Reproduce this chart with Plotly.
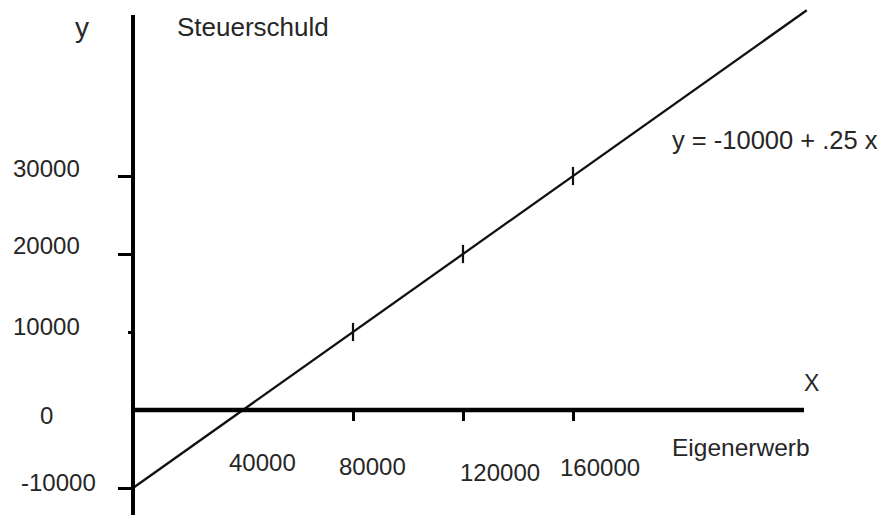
import plotly.graph_objects as go

# ---- data ----
line_x = [0, 40000, 80000, 120000, 160000, 245000]
line_y = [-10000, 0, 10000, 20000, 30000, 51250]
mark_x = [80000, 120000, 160000]
mark_y = [10000, 20000, 30000]
x_tick_vals = [40000, 80000, 120000, 160000]
x_tick_text = ["40000", "80000", "120000", "160000"]
y_tick_vals = [30000, 20000, 10000, 0, -10000]
y_tick_text = ["30000", "20000", "10000", "0", "-10000"]
x_axis_end = 244000
equation = "y = -10000 + .25 x"

# ---- layout geometry (pixels) ----
W, H = 881, 515
X0_PX, X_SCALE = 133, 0.00275   # px per unit
Y0_PX, Y_SCALE = 410, 0.0078
x_range = [-X0_PX / X_SCALE, (W - X0_PX) / X_SCALE]
y_range = [-(H - Y0_PX) / Y_SCALE, Y0_PX / Y_SCALE]
y_axis_top = (Y0_PX - 15) / Y_SCALE

FONT = "Liberation Sans, Arial, sans-serif"
TXT = "#262626"

fig = go.Figure()
fig.add_trace(go.Scatter(x=line_x, y=line_y, mode="lines",
                         line=dict(color="#111111", width=2.3), hoverinfo="skip"))
fig.add_trace(go.Scatter(x=mark_x, y=mark_y, mode="markers",
                         marker=dict(symbol="line-ns", size=13,
                                     line=dict(color="#111111", width=2.2)),
                         hoverinfo="skip"))

# axis lines
fig.add_shape(type="line", xref="x", yref="y", x0=0, x1=0,
              y0=y_range[0], y1=y_axis_top, line=dict(color="black", width=4))
fig.add_shape(type="line", xref="x", yref="y", x0=0, x1=x_axis_end,
              y0=0, y1=0, line=dict(color="black", width=4.5))

annotations = []
# y tick labels
y_lab_cx = [46, 46, 46, 46, 58]
y_lab_shift = [8, 9, 6, -5, 6]
for v, t, cx, s in zip(y_tick_vals, y_tick_text, y_lab_cx, y_lab_shift):
    annotations.append(dict(x=cx / W, xref="paper", y=v, yref="y", text=t,
                            showarrow=False, xanchor="center", yanchor="middle",
                            yshift=s, font=dict(family=FONT, size=24, color=TXT)))
# x tick labels
x_lab_shift = [19, 19, 37, 27]
x_lab_cy = [462, 466, 472, 467]
for v, t, s, cy in zip(x_tick_vals, x_tick_text, x_lab_shift, x_lab_cy):
    annotations.append(dict(x=v, xref="x", y=1 - cy / H, yref="paper", text=t,
                            showarrow=False, xanchor="center", yanchor="middle",
                            xshift=s, font=dict(family=FONT, size=24, color=TXT)))


def txt(text, px, py, anchor="left", size=24):
    annotations.append(dict(x=px / W, y=1 - py / H, xref="paper", yref="paper",
                            text=text, showarrow=False, xanchor=anchor,
                            yanchor="middle",
                            font=dict(family=FONT, size=size, color=TXT)))


txt("y", 82, 27, "center", 28)
txt("Steuerschuld", 175, 27, size=26)
txt(equation, 670, 140, size=25.5)
txt("X", 811, 383, "center", 23)
txt("Eigenerwerb", 670, 447, size=24.5)

fig.update_layout(
    width=W, height=H, autosize=False,
    margin=dict(l=0, r=0, t=0, b=0),
    paper_bgcolor="white", plot_bgcolor="white",
    showlegend=False,
    annotations=annotations,
    xaxis=dict(range=x_range, showgrid=False, zeroline=False, showline=False,
               anchor="free", position=(H - Y0_PX) / H,
               tickmode="array", tickvals=mark_x, ticks="outside",
               ticklen=10, tickwidth=3, tickcolor="black",
               showticklabels=False, fixedrange=True),
    yaxis=dict(range=y_range, showgrid=False, zeroline=False, showline=False,
               anchor="free", position=X0_PX / W,
               tickmode="array", tickvals=[30000, 20000, -10000], ticks="outside",
               ticklen=15, tickwidth=3, tickcolor="black",
               minor=dict(tickmode="array", tickvals=[10000], ticks="outside",
                          ticklen=5, tickwidth=3, tickcolor="black"),
               showticklabels=False, fixedrange=True),
)

fig.write_html("out.html",
               config={"displayModeBar": False, "staticPlot": True},
               post_script="document.body.style.margin='0';"
                           "document.body.style.overflow='hidden';")
